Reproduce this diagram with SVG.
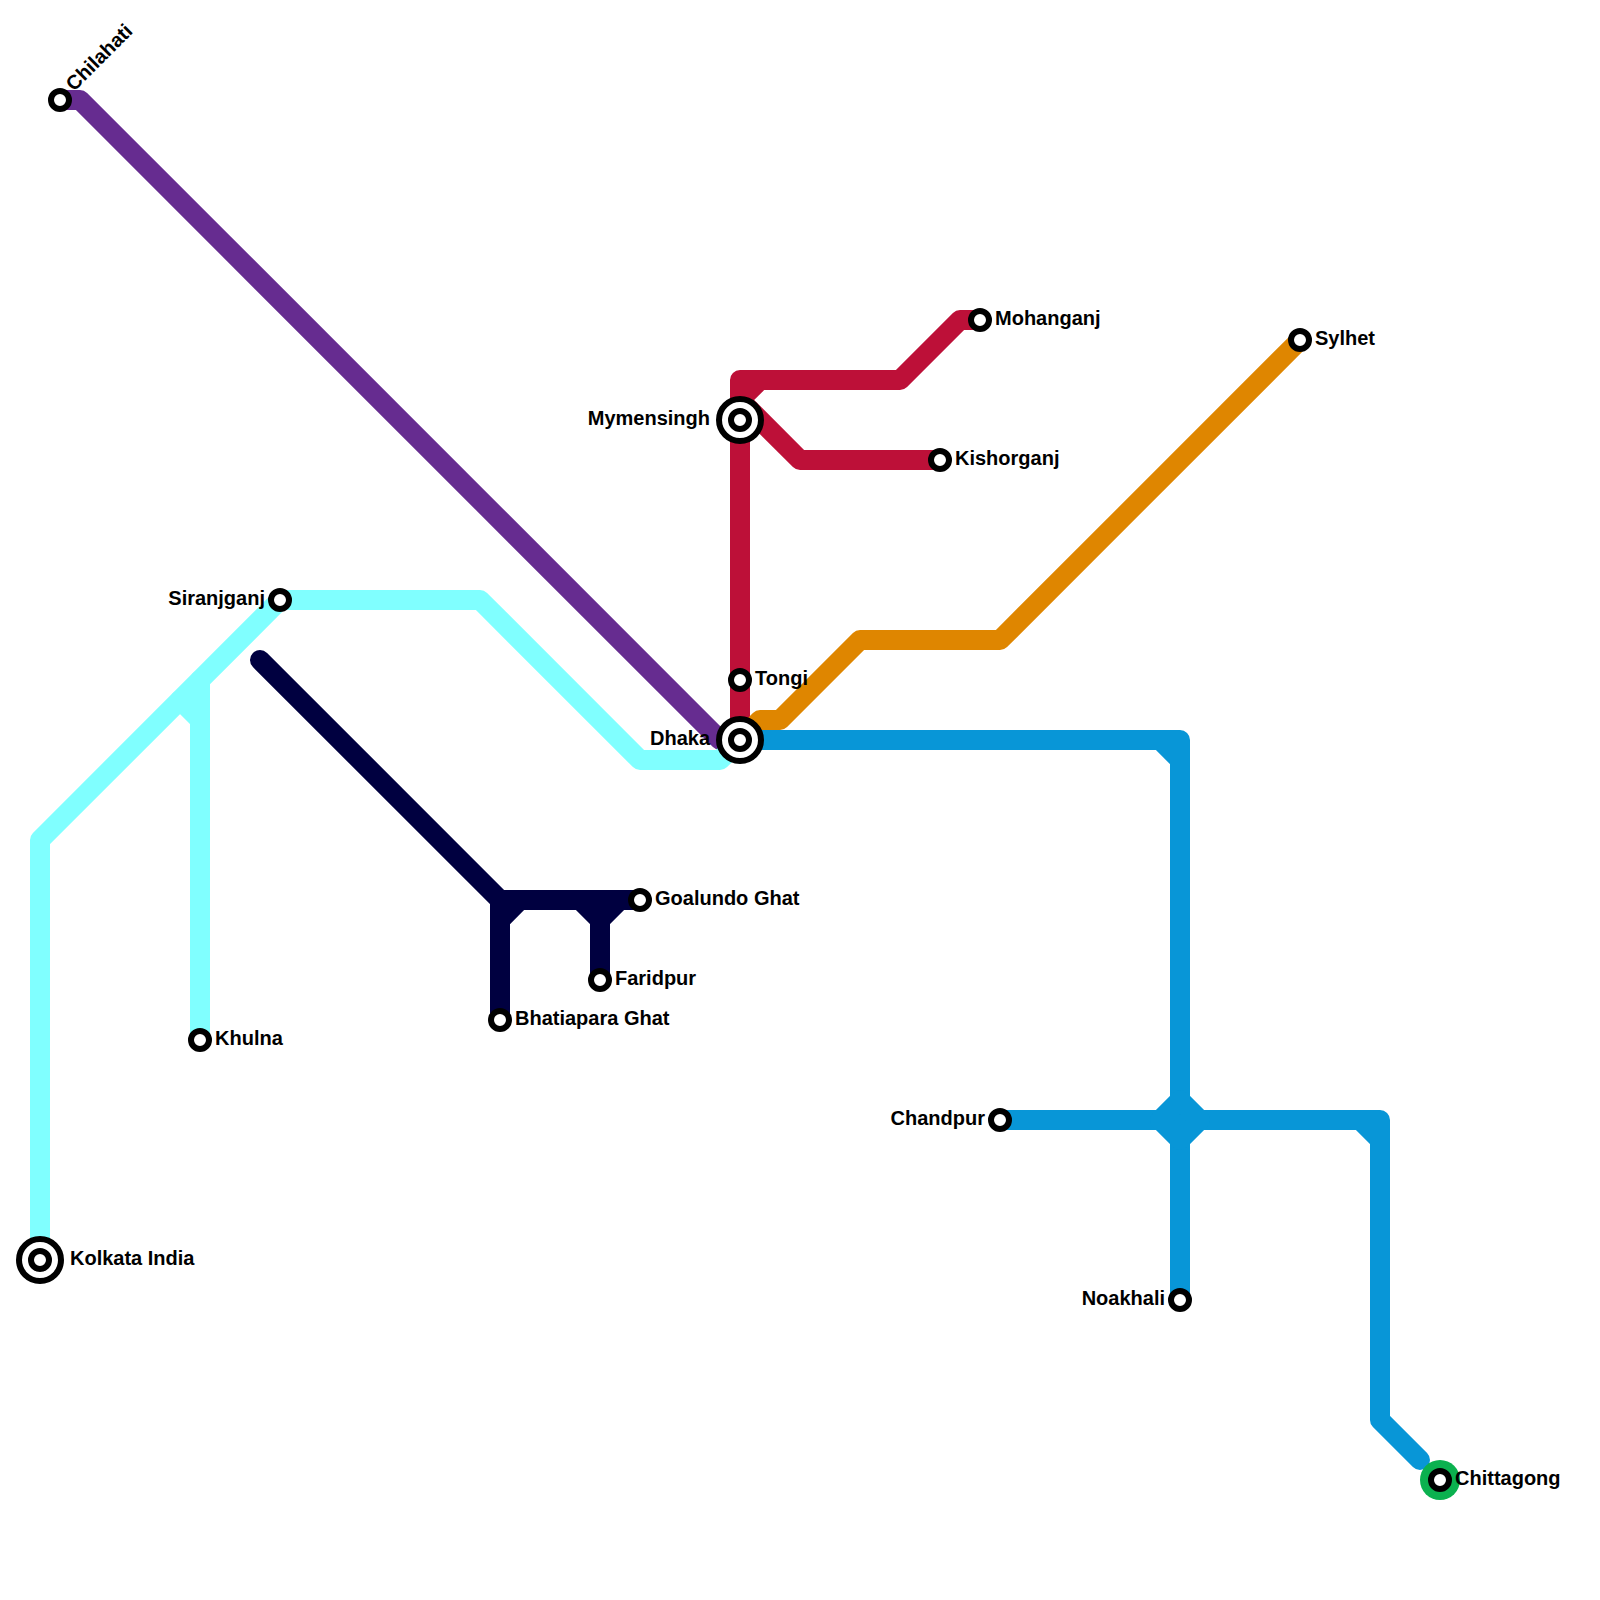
<svg xmlns="http://www.w3.org/2000/svg" width="1600" height="1600" viewBox="0 0 1600 1600">
<style>
.l{fill:none;stroke-width:20;stroke-linecap:round;stroke-linejoin:round}
.purple{stroke:#662c90}.cyan{stroke:#80ffff}.red{stroke:#bd1038}.orange{stroke:#df8600}.blue{stroke:#0896d7}.navy{stroke:#000040}
.s{fill:#fff;stroke:#000;stroke-width:6}
.t{font-family:"Liberation Sans",Arial,sans-serif;font-weight:bold;font-size:20px;fill:#000}
.e{text-anchor:end}
</style>
<rect width="1600" height="1600" fill="#fff"/>
<g id="connectors">
<path class="l purple" d="M60 100H80L720 740H740"/>
<path class="l cyan" d="M40 1260V840L280 600H480L640 760H720L740 740"/>
<path class="l cyan" d="M200 1040V680M180 700L200 720"/>
<path class="l navy" d="M260 660L500 900V1020M500 900H640M500 920L520 900M600 980V900M580 900L600 920L620 900"/>
<path class="l red" d="M740 740V380H900L960 320H980M740 400L760 380M740 400L800 460H940"/>
<path class="l orange" d="M740 740L760 720H780L860 640H1000L1300 340"/>
<path class="l blue" d="M740 740H1180V1300M1160 740L1180 760M1000 1120H1380V1420L1420 1460M1360 1120L1380 1140"/>
<path class="l blue" style="fill:#0896d7" d="M1160 1120L1180 1100L1200 1120L1180 1140Z"/>
</g>
<g id="chilahati"><circle class="s" cx="60" cy="100" r="9"/><text class="t" transform="translate(74 92) rotate(-45)">Chilahati</text></g>
<g id="siranjganj"><circle class="s" cx="280" cy="600" r="9"/><text class="t e" x="265" y="605">Siranjganj</text></g>
<g id="khulna"><circle class="s" cx="200" cy="1040" r="9"/><text class="t" x="215" y="1045">Khulna</text></g>
<g id="kolkata"><circle class="s" cx="40" cy="1260" r="21"/><circle class="s" cx="40" cy="1260" r="9"/><text class="t" x="70" y="1265">Kolkata India</text></g>
<g id="goalundo"><circle class="s" cx="640" cy="900" r="9"/><text class="t" x="655" y="905">Goalundo Ghat</text></g>
<g id="faridpur"><circle class="s" cx="600" cy="980" r="9"/><text class="t" x="615" y="985">Faridpur</text></g>
<g id="bhatiapara"><circle class="s" cx="500" cy="1020" r="9"/><text class="t" x="515" y="1025">Bhatiapara Ghat</text></g>
<g id="mymensingh"><circle class="s" cx="740" cy="420" r="21"/><circle class="s" cx="740" cy="420" r="9"/><text class="t e" x="710" y="425">Mymensingh</text></g>
<g id="mohanganj"><circle class="s" cx="980" cy="320" r="9"/><text class="t" x="995" y="325">Mohanganj</text></g>
<g id="kishorganj"><circle class="s" cx="940" cy="460" r="9"/><text class="t" x="955" y="465">Kishorganj</text></g>
<g id="sylhet"><circle class="s" cx="1300" cy="340" r="9"/><text class="t" x="1315" y="345">Sylhet</text></g>
<g id="tongi"><circle class="s" cx="740" cy="680" r="9"/><text class="t" x="755" y="685">Tongi</text></g>
<g id="dhaka"><circle class="s" cx="740" cy="740" r="21"/><circle class="s" cx="740" cy="740" r="9"/><text class="t e" x="710" y="745">Dhaka</text></g>
<g id="chandpur"><circle class="s" cx="1000" cy="1120" r="9"/><text class="t e" x="985" y="1125">Chandpur</text></g>
<g id="noakhali"><circle class="s" cx="1180" cy="1300" r="9"/><text class="t e" x="1165" y="1305">Noakhali</text></g>
<g id="chittagong"><circle cx="1440" cy="1480" r="20" fill="#0bb14f"/><circle class="s" cx="1440" cy="1480" r="9"/><text class="t" x="1455" y="1485">Chittagong</text></g>
</svg>
